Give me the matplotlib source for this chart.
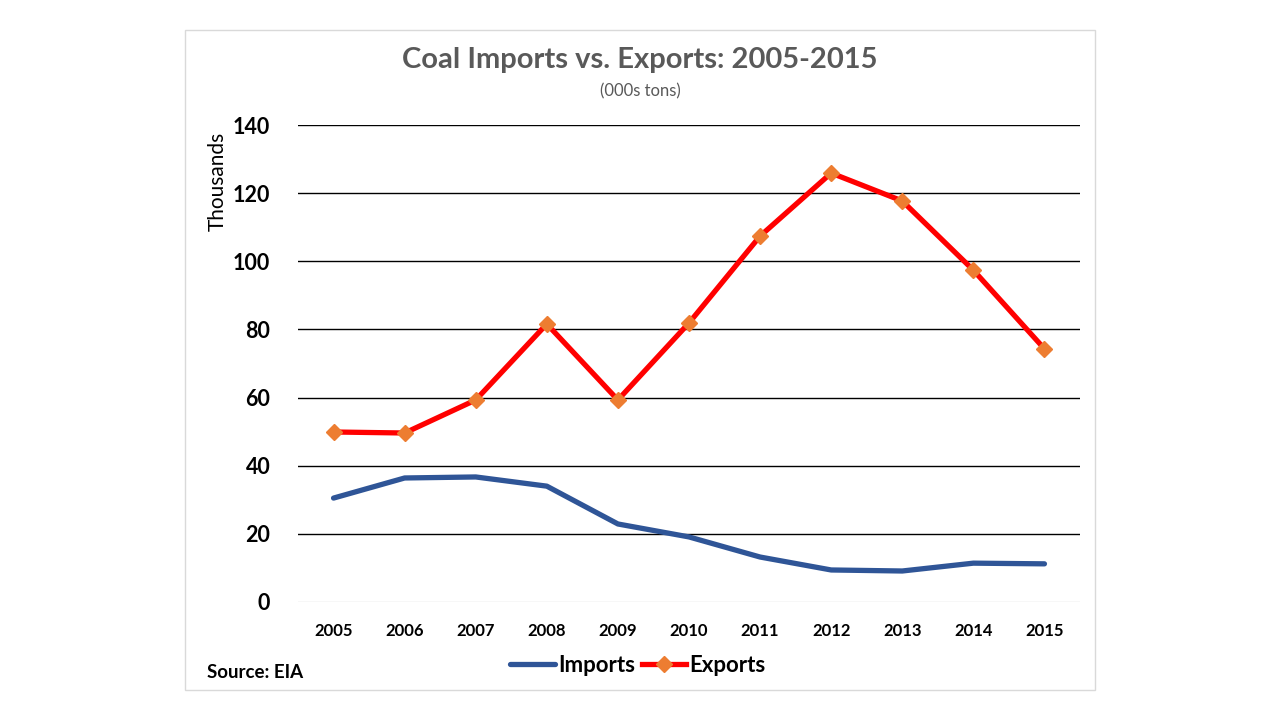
import matplotlib
matplotlib.use("Agg")
import matplotlib.pyplot as plt
from matplotlib.patches import Rectangle

plt.rcParams['font.family'] = ['Lato', 'DejaVu Sans']

years = ['2005', '2006', '2007', '2008', '2009', '2010', '2011', '2012', '2013', '2014', '2015']
imports = [30.5, 36.4, 36.7, 34.0, 22.9, 19.1, 13.2, 9.4, 9.1, 11.4, 11.2]
exports = [49.9, 49.6, 59.3, 81.6, 59.3, 81.9, 107.4, 125.9, 117.7, 97.4, 74.3]
yticks = [0, 20, 40, 60, 80, 100, 120, 140]

fig = plt.figure(figsize=(12.8, 7.2), dpi=100)
fig.patches.append(Rectangle((185/1280, 1-690/720), 910/1280, 660/720,
                             transform=fig.transFigure, fill=False,
                             edgecolor='#d9d9d9', linewidth=1))

ax = fig.add_axes([298/1280, 1-602/720, 782/1280, 477/720])
x = list(range(len(years)))
ax.plot(x, imports, color='#2F5597', linewidth=3.8, label='Imports', solid_capstyle='round')
ax.plot(x, exports, color='#FF0000', linewidth=3.8, label='Exports',
        marker='D', markersize=8, markerfacecolor='#ED7D31', markeredgecolor='#ED7D31')

ax.set_xlim(-0.5, len(years) - 0.5)
ax.set_ylim(0, 140)
ax.set_yticks(yticks)
ax.set_yticklabels([str(v) for v in yticks], fontsize=15.5, fontweight='bold')
ax.set_xticks(x)
ax.set_xticklabels(years, fontsize=12, fontweight='bold')
ax.tick_params(length=0)
ax.tick_params(axis='y', pad=20)
ax.tick_params(axis='x', pad=15)
for v in yticks[1:]:
    ax.axhline(v, color='black', linewidth=1, zorder=0)
ax.axhline(0, color='#d9d9d9', linewidth=1, zorder=0)
for s in ax.spines.values():
    s.set_visible(False)
ax.set_ylabel('Thousands', fontsize=15)
ax.yaxis.set_label_coords(-70/782, (602-181)/477)

fig.text(640/1280, 1-60/720, 'Coal Imports vs. Exports: 2005-2015', ha='center', va='center',
         fontsize=21, fontweight='bold', color='#595959')
fig.text(640/1280, 1-91/720, '(000s tons)', ha='center', va='center',
         fontsize=12, color='#595959')
fig.text(207/1280, 1-672/720, 'Source: EIA', ha='left', va='center',
         fontsize=13.5, fontweight='bold')

leg = fig.legend(loc='center', bbox_to_anchor=(638/1280, 1-665/720), ncol=2, frameon=False,
                 prop={'size': 16, 'weight': 'bold'}, handlelength=2.0, handletextpad=0.15,
                 columnspacing=0.3)

fig.savefig('out.png', dpi=100)
